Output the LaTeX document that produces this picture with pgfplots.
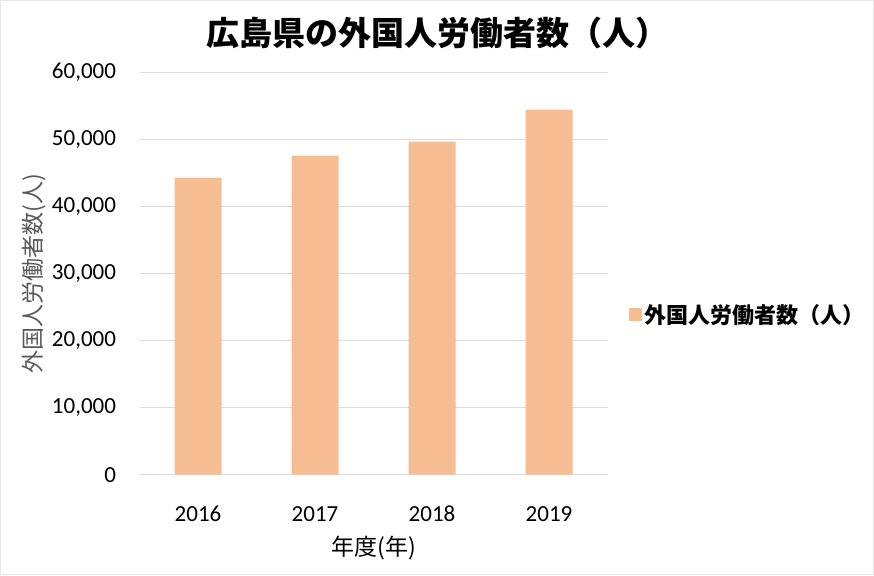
\documentclass[border=0pt]{standalone}
\usepackage{fontspec}
\usepackage{pgfplots}
\pgfplotsset{compat=1.18}
\setmainfont{Carlito}
\newfontfamily\jp{Noto Sans CJK JP}
\definecolor{barc}{RGB}{246,189,147}
\definecolor{gridc}{RGB}{220,220,220}
\definecolor{labc}{RGB}{89,89,89}
\begin{document}
\begin{tikzpicture}
\useasboundingbox (0,0) rectangle (874pt,575pt);
\draw[gray!20, line width=1pt] (0.5pt,0.5pt) rectangle (873.5pt,574.5pt);
\node[font=\fontsize{33}{38}\selectfont\jp\bfseries, anchor=center] at (437pt,542pt) {広島県の外国人労働者数（人）};
\begin{axis}[
  at={(139.5pt,100.3pt)}, anchor=south west,
  width=468pt, height=402pt, scale only axis,
  xmin=-0.5, xmax=3.5, ymin=0, ymax=60000,
  xtick={0,1,2,3}, xticklabels={2016,2017,2018,2019},
  ytick={0,10000,20000,30000,40000,50000,60000},
  ymajorgrids, grid style={draw=gridc, line width=1pt},
  axis line style={draw=none}, major tick length=0pt,
  /pgf/number format/assume math mode=true,
  /pgf/number format/fixed,
  /pgf/number format/1000 sep={,},
  scaled y ticks=false,
  ticklabel style={font=\fontsize{23}{26}\selectfont},
  yticklabel style={xshift=-20pt},
  xticklabel style={yshift=-28pt},
  every axis y label/.style={at={(axis description cs:-0.2244,0.5)}, rotate=90, anchor=center},
  every axis x label/.style={at={(axis description cs:0.5,0)}, anchor=center, yshift=-73pt},
  ylabel={\fontsize{23}{26}\selectfont\jp\color{labc}外国人労働者数(人)},
  xlabel={\fontsize{23}{26}\selectfont\jp 年度(年)},
  legend style={at={(1.04,0.399)}, anchor=west, draw=none, fill=none,
    font=\fontsize{22}{25}\selectfont\jp\bfseries},
  legend image code/.code={\fill[barc] (0pt,-6.5pt) rectangle (13pt,6.5pt);},
]
\addplot[ybar, bar width=47pt, fill=barc, draw=none] coordinates {(0,44330) (1,47610) (2,49700) (3,54480)};
\addlegendentry{外国人労働者数（人）}
\end{axis}
\end{tikzpicture}
\end{document}
